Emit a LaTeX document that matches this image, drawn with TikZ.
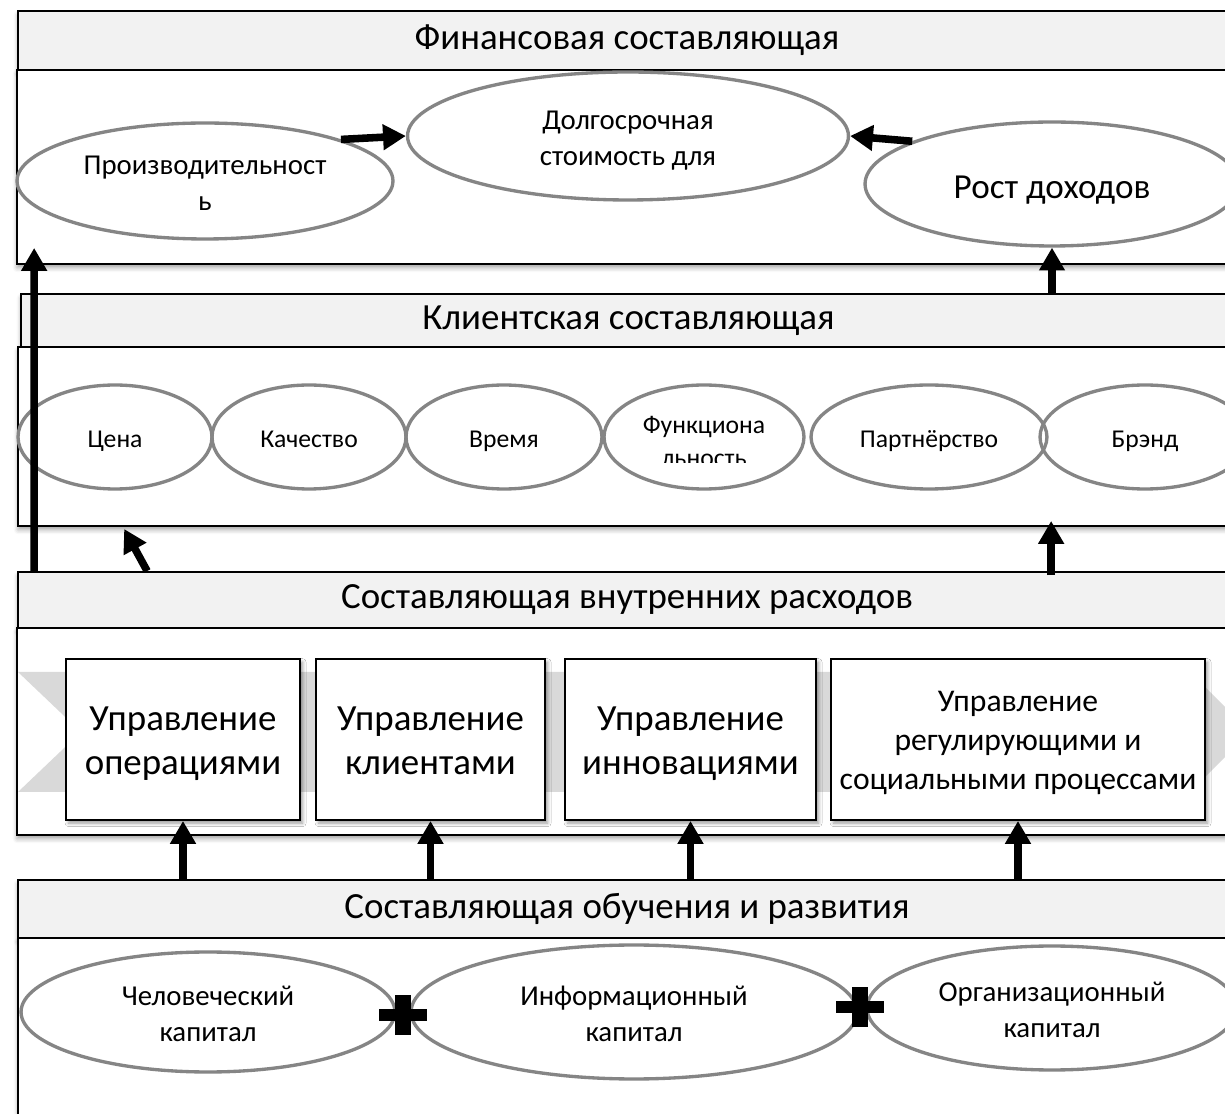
\documentclass[tikz,border=0pt]{standalone}
\usepackage{fontspec}
\setmainfont{Carlito}
\usetikzlibrary{arrows.meta,calc,shapes.geometric,shadows.blur}

\definecolor{hdrfill}{HTML}{F2F2F2}
\definecolor{ringgray}{HTML}{858585}
\definecolor{chevgray}{HTML}{D9D9D9}

\newcommand\hdrfont{\fontsize{21}{25}\selectfont}
\newcommand\boxfont{\fontsize{21}{25.5}\selectfont}
\newcommand\boxfontsm{\fontsize{18}{22}\selectfont}
\newcommand\ovalfont{\fontsize{14.6}{17.5}\selectfont}
\newcommand\ovalfontmd{\fontsize{16.4}{20}\selectfont}
\newcommand\ovalfontlg{\fontsize{20}{24}\selectfont}
% fixed top of the first line; the last line is smashed, so every
% text block is centred on the same optical line
\newcommand\tfix{\rule{0pt}{0.8em}}
\newcommand\tfixb{\rule{0pt}{0.7em}}

\begin{document}
\begin{tikzpicture}[x=0.02cm, y=-0.02cm,
  softshadow/.style={blur shadow={shadow xshift=0pt, shadow yshift=-2.2pt,
      shadow blur radius=2.5pt, shadow opacity=35}},
  hdrbox/.style={rectangle, draw=black, line width=1.1pt, fill=hdrfill,
      inner sep=0pt, font=\hdrfont, softshadow},
  bodybox/.style={rectangle, draw=black, line width=1.1pt, fill=white,
      inner sep=0pt, softshadow},
  procbox/.style={rectangle, draw=black, line width=1.1pt, fill=white,
      inner sep=0pt, align=center, font=\boxfont,
      blur shadow={shadow xshift=1.5pt, shadow yshift=-1.8pt,
      shadow blur radius=2pt, shadow opacity=40}},
  oval/.style={ellipse, draw=ringgray, line width=1.9pt, inner sep=0pt,
      align=center},
  bigarrow/.style={draw=black, line width=4.3pt,
      -{Triangle[length=13pt, width=14pt]}},
]
\useasboundingbox (0,0) rectangle (1225,1114);
\clip (0,0) rectangle (1225,1114);

% ---------- financial perspective ----------
\node[hdrbox, minimum width=24.36cm, minimum height=1.18cm] (h1) at (627,40.5)
  {Финансовая составляющая};
\node[bodybox, minimum width=24.38cm, minimum height=3.88cm] (b1) at (626.5,167) {};

\node[oval, minimum width=7.52cm, minimum height=2.32cm, font=\ovalfontmd] (prod)
  at (205,181) {\tfix Производительност\\\smash{ь}};
\node[oval, minimum width=8.82cm, minimum height=2.56cm, font=\ovalfontmd] (dolg)
  at (628,136) {\tfix Долгосрочная\\\smash{стоимость для}};
\node[oval, minimum width=7.48cm, minimum height=2.48cm, font=\ovalfontlg] (rost)
  at (1052,184) {\tfix\smash{Рост доходов}};

% ---------- customer perspective ----------
\node[hdrbox, minimum width=24.30cm, minimum height=1.06cm] (h2) at (628.5,320.5)
  {Клиентская составляющая};
\node[bodybox, minimum width=24.36cm, minimum height=3.58cm] (b2) at (627,436.5) {};

\node[oval, minimum width=3.88cm, minimum height=2.08cm, font=\ovalfont] (price)
  at (115,437) {\tfix\smash{Цена}};
\node[oval, minimum width=3.88cm, minimum height=2.08cm, font=\ovalfont] (quality)
  at (309,437) {\tfix\smash{Качество}};
\node[oval, minimum width=3.92cm, minimum height=2.08cm, font=\ovalfont] (timing)
  at (504,437) {\tfix\smash{Время}};
\node[oval, minimum width=4.00cm, minimum height=2.08cm] (func) at (704,437) {};
\begin{scope}
  \clip (604,380) rectangle (804,463);
  \node[font=\ovalfont, anchor=base, inner sep=0pt] (functop) at (704,434) {Функциона};
  \node[font=\ovalfont, anchor=base, inner sep=0pt] (funcbot) at (704,467) {льность};
\end{scope}
\node[oval, minimum width=4.72cm, minimum height=2.08cm, font=\ovalfont] (partner)
  at (929,437) {\tfix\smash{Партнёрство}};
\node[oval, minimum width=4.20cm, minimum height=2.08cm, font=\ovalfont] (brand)
  at (1145,437) {\tfix\smash{Брэнд}};

% ---------- internal perspective ----------
\node[hdrbox, minimum width=24.36cm, minimum height=1.12cm] (h3) at (627,600)
  {Составляющая внутренних расходов};
\node[bodybox, minimum width=24.38cm, minimum height=4.14cm] (b3) at (626.5,731.5) {};

% background chevron behind the process boxes
\fill[chevgray] (18,672) -- (1190,672) -- (1250,732) -- (1190,792) -- (18,792)
  -- (81,732) -- cycle;

\node[procbox, minimum width=4.68cm, minimum height=3.22cm] (p1) at (183,739.5)
  {\tfixb Управление\\\smash{операциями}};
\node[procbox, minimum width=4.58cm, minimum height=3.22cm] (p2) at (430.5,739.5)
  {\tfixb Управление\\\smash{клиентами}};
\node[procbox, minimum width=5.02cm, minimum height=3.22cm] (p3) at (690.5,739.5)
  {\tfixb Управление\\\smash{инновациями}};
\node[procbox, minimum width=7.48cm, minimum height=3.22cm, font=\boxfontsm] (p4)
  at (1018,739.5) {\tfixb Управление\\регулирующими и\\\smash{социальными процессами}};

% ---------- learning and growth perspective ----------
\node[hdrbox, minimum width=24.36cm, minimum height=1.16cm] (h4) at (627,909)
  {Составляющая обучения и развития};
\node[bodybox, minimum width=24.36cm, minimum height=4.04cm] (b4) at (627,1039) {};

\node[oval, minimum width=7.48cm, minimum height=2.40cm, font=\ovalfontmd] (human)
  at (208,1012) {\tfix Человеческий\\\smash{капитал}};
\node[oval, minimum width=8.92cm, minimum height=2.68cm, font=\ovalfontmd] (info)
  at (634,1012) {\tfix Информационный\\\smash{капитал}};
\node[oval, minimum width=7.40cm, minimum height=2.48cm, font=\ovalfontmd] (org)
  at (1052,1008) {\tfix Организационный\\\smash{капитал}};

% plus signs between the capitals
\coordinate (plusA) at (403,1015);
\coordinate (plusB) at (860,1007);
\foreach \c in {plusA,plusB}{
  \fill[black] ($(\c)+(-24,-6)$) rectangle ($(\c)+(24,6)$);
  \fill[black] ($(\c)+(-8,-20)$) rectangle ($(\c)+(8,20)$);
}

% ---------- connectors ----------
\draw[bigarrow] (prod.17) -- (dolg.west);
\draw[bigarrow] (rost.163) -- (dolg.east);
\draw[bigarrow] (rost.south |- h2.north) -- (rost.south);
\draw[bigarrow] ($(h3.north west)+(1034,4)$) -- ($(b2.south west)+(1034,-6)$);
\draw[bigarrow] ($(h3.north west)+(130,0)$) -- ($(b2.south west)+(107,2)$);
\draw[bigarrow] (p1.south |- h4.north) -- (p1.south);
\draw[bigarrow] (p2.south |- h4.north) -- (p2.south);
\draw[bigarrow] (p3.south |- h4.north) -- (p3.south);
\draw[bigarrow] (p4.south |- h4.north) -- (p4.south);
\draw[bigarrow] ($(h3.north west)+(17,0)$) -- ($(b1.south west)+(18,-17)$);
\end{tikzpicture}
\end{document}
